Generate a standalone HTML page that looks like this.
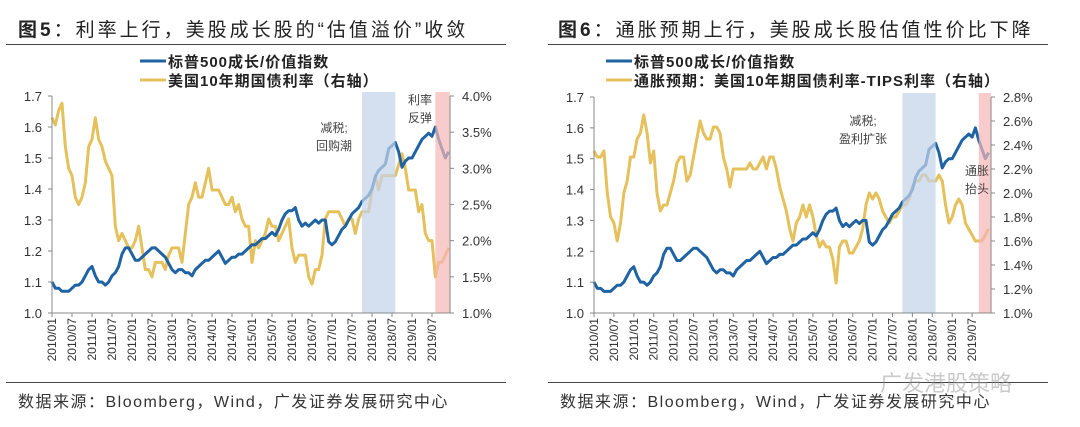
<!DOCTYPE html>
<html><head><meta charset="utf-8"><style>
body{margin:0;background:#fff;width:1080px;height:427px;overflow:hidden;position:relative;font-family:"Liberation Sans","Noto Sans CJK SC",sans-serif}
.t{position:absolute;font-size:19px;color:#222;letter-spacing:3px;white-space:nowrap}
.rule{position:absolute;height:1px;background:#444}
.src{position:absolute;font-size:16px;color:#333;letter-spacing:1.5px;white-space:nowrap}
</style></head><body>
<div class="t" style="left:18px;top:15px"><b>图5</b>：利率上行，美股成长股的“估值溢价”收敛</div>
<div class="t" style="left:558px;top:15px"><b>图6</b>：通胀预期上行，美股成长股估值性价比下降</div>
<div class="rule" style="left:6px;top:44px;width:500px"></div>
<div class="rule" style="left:548px;top:44px;width:500px"></div>
<div class="rule" style="left:6px;top:382px;width:500px"></div>
<div class="rule" style="left:548px;top:382px;width:500px"></div>
<div class="src" style="left:18px;top:388px">数据来源：Bloomberg，Wind，广发证券发展研究中心</div>
<div class="src" style="left:560px;top:388px">数据来源：Bloomberg，Wind，广发证券发展研究中心</div>
<div style="position:absolute;left:880px;top:366px;font-size:22px;color:rgba(150,150,150,0.5)">广发港股策略</div>
<svg id="svg" width="1080" height="427" style="position:absolute;left:0;top:0"></svg>
<script>
const months = [];
for (let y = 2010; y <= 2019; y++) for (let m = 1; m <= 12; m++) months.push(y + '/' + String(m).padStart(2, '0'));
const tickLabels = ['2010/01','2010/07','2011/01','2011/07','2012/01','2012/07','2013/01','2013/07','2014/01','2014/07','2015/01','2015/07','2016/01','2016/07','2017/01','2017/07','2018/01','2018/07','2019/01','2019/07'];
const growthValue = [
1.10,1.08,1.08,1.07,1.07,1.07,1.08,1.09,1.09,1.10,1.12,1.14,
1.15,1.12,1.10,1.10,1.09,1.10,1.12,1.13,1.15,1.19,1.21,1.21,
1.19,1.17,1.17,1.18,1.19,1.20,1.21,1.21,1.20,1.19,1.18,1.16,
1.14,1.13,1.14,1.14,1.13,1.13,1.12,1.14,1.15,1.16,1.17,1.17,
1.18,1.19,1.20,1.18,1.16,1.17,1.18,1.18,1.19,1.19,1.20,1.21,
1.22,1.22,1.23,1.24,1.24,1.25,1.26,1.25,1.27,1.30,1.32,1.33,
1.33,1.34,1.30,1.28,1.29,1.28,1.29,1.30,1.29,1.30,1.30,1.23,
1.22,1.23,1.25,1.27,1.28,1.30,1.32,1.33,1.34,1.36,1.37,1.38,
1.40,1.44,1.46,1.47,1.48,1.53,1.54,1.55,1.52,1.47,1.49,1.50,
1.50,1.52,1.54,1.56,1.57,1.58,1.57,1.60,1.56,1.53,1.50,1.52];
const yield10y = [
3.7,3.6,3.8,3.9,3.3,3.0,2.9,2.6,2.5,2.6,2.8,3.3,
3.4,3.7,3.4,3.3,3.1,3.0,2.9,2.2,2.0,2.1,2.0,1.9,
1.9,2.0,2.2,1.9,1.6,1.6,1.5,1.7,1.7,1.7,1.6,1.8,
1.9,1.9,1.9,1.7,2.1,2.5,2.6,2.8,2.6,2.6,2.8,3.0,
2.7,2.7,2.7,2.6,2.5,2.5,2.6,2.4,2.5,2.3,2.2,2.2,
1.7,2.0,1.9,2.0,2.1,2.3,2.2,2.2,2.0,2.1,2.2,2.3,
1.9,1.7,1.8,1.8,1.8,1.5,1.4,1.6,1.6,1.8,2.3,2.4,
2.4,2.4,2.4,2.3,2.2,2.3,2.3,2.1,2.3,2.4,2.4,2.4,
2.7,2.9,2.7,2.9,2.9,2.9,2.9,2.9,3.05,3.2,3.0,2.7,
2.7,2.7,2.4,2.5,2.1,2.0,2.0,1.5,1.7,1.7,1.8,1.9];
const breakeven = [
2.35,2.3,2.3,2.35,2.0,1.8,1.75,1.6,1.75,2.0,2.1,2.3,
2.3,2.45,2.5,2.65,2.5,2.25,2.35,2.0,1.85,1.9,1.9,2.0,
2.1,2.25,2.3,2.3,2.1,2.15,2.3,2.45,2.6,2.5,2.45,2.45,
2.55,2.55,2.5,2.3,2.2,2.05,2.2,2.2,2.2,2.2,2.2,2.25,
2.2,2.2,2.25,2.3,2.2,2.3,2.3,2.2,2.05,1.95,1.85,1.7,
1.6,1.75,1.8,1.9,1.8,1.9,1.8,1.65,1.55,1.6,1.55,1.55,
1.45,1.25,1.55,1.6,1.6,1.5,1.5,1.55,1.6,1.7,1.9,2.0,
1.95,2.0,1.95,1.85,1.8,1.75,1.8,1.8,1.85,1.9,1.9,1.95,
2.05,2.1,2.1,2.15,2.15,2.1,2.1,2.1,2.15,2.1,1.9,1.75,
1.8,1.9,1.95,1.9,1.75,1.7,1.65,1.6,1.6,1.6,1.65,1.7];
const leftTicks = [1.0,1.1,1.2,1.3,1.4,1.5,1.6,1.7];
const rightTicks5 = [1.0,1.5,2.0,2.5,3.0,3.5,4.0];
const rightTicks6 = [1.0,1.2,1.4,1.6,1.8,2.0,2.2,2.4,2.6,2.8];

const svg = document.getElementById('svg');
const NS = 'http://www.w3.org/2000/svg';
function mk(tag, attrs, parent) { const e = document.createElementNS(NS, tag); for (const k in attrs) e.setAttribute(k, attrs[k]); (parent || svg).appendChild(e); return e; }

function chart(o) {
  const g = mk('g', {});
  
  
  const x = i => o.x0 + i * o.step / 6;
  const yL = v => o.yB - (v - 1.0) / 0.7 * (o.yB - o.yT);
  const yR = v => o.yB - (v - o.rMin) / (o.rMax - o.rMin) * (o.yB - o.yT);
  const idx = s => months.indexOf(s);
  const lineY = mk('polyline', { points: o.right.map((v, i) => x(i) + ',' + yR(v)).join(' '), fill: 'none', stroke: '#e5c05b', 'stroke-width': 3, 'stroke-linejoin': 'round' }, g);
  
  
  const lineB = mk('polyline', { points: growthValue.map((v, i) => x(i) + ',' + yL(v)).join(' '), fill: 'none', stroke: '#1f63a3', 'stroke-width': 3, 'stroke-linejoin': 'round' }, g);
  
  
  const b1 = mk('rect', { x: x(idx(o.band1[0])), y: o.yT - 4, width: x(idx(o.band1[1])) - x(idx(o.band1[0])), height: o.yB - o.yT + 4, fill: '#c3d3e9', opacity: 0.72 }, g);
  
  
  const b2 = mk('rect', { x: x(idx(o.band2)), y: o.yT - 4, width: o.xR - x(idx(o.band2)), height: o.yB - o.yT + 4, fill: '#f7b7b7', opacity: 0.7 }, g);
  
  
  mk('line', { x1: o.x0, x2: o.x0, y1: o.yT, y2: o.yB, stroke: '#888' }, g);
  mk('line', { x1: o.xR, x2: o.xR, y1: o.yT, y2: o.yB, stroke: '#888' }, g);
  mk('line', { x1: o.x0, x2: o.xR, y1: o.yB, y2: o.yB, stroke: '#888' }, g);
  leftTicks.forEach(v => {
    mk('line', { x1: o.x0 - 4, x2: o.x0, y1: yL(v), y2: yL(v), stroke: '#888' }, g);
    const t = mk('text', { x: o.x0 - 10, y: yL(v) + 5, 'text-anchor': 'end', 'font-size': 13, fill: '#333' }, g);
    t.textContent = v.toFixed(1);
    
    
  });
  o.rTicks.forEach(v => {
    mk('line', { x1: o.xR, x2: o.xR + 4, y1: yR(v), y2: yR(v), stroke: '#888' }, g);
    const t = mk('text', { x: o.xR + 12, y: yR(v) + 5, 'font-size': 13, fill: '#333' }, g);
    t.textContent = v.toFixed(1) + '%';
    
    
  });
  tickLabels.forEach(s => {
    const xx = x(idx(s));
    mk('line', { x1: xx, x2: xx, y1: o.yB, y2: o.yB + 4, stroke: '#888' }, g);
    const t = mk('text', { x: 0, y: 0, 'text-anchor': 'end', 'font-size': 12, fill: '#333', transform: `translate(${xx + 4},${o.yB + 5}) rotate(-90)` }, g);
    t.textContent = s;
    
    
  });
  mk('line', { x1: o.lx, x2: o.lx + 26, y1: 61, y2: 61, stroke: '#1f63a3', 'stroke-width': 3 }, g);
  mk('line', { x1: o.lx, x2: o.lx + 26, y1: 80, y2: 80, stroke: '#e5c05b', 'stroke-width': 3 }, g);
  const l1 = mk('text', { x: o.lx + 28, y: 67, 'font-size': 15, 'font-weight': 'bold', fill: '#222', 'letter-spacing': 1 }, g);
  l1.textContent = '标普500成长/价值指数';
  
  
  const l2 = mk('text', { x: o.lx + 28, y: 86, 'font-size': 15, 'font-weight': 'bold', fill: '#222', 'letter-spacing': 1 }, g);
  l2.textContent = o.legend2;
  
  
  o.notes.forEach(n => {
    n.lines.forEach((s, k) => {
      const t = mk('text', { x: n.x, y: n.y + k * 18, 'font-size': 12, fill: '#444', 'text-anchor': 'middle' }, g);
      t.textContent = s;
      
      
    });
  });
}
chart({ name: 'chart5', x0: 52, xR: 450, yT: 96, yB: 313, step: 20, rMin: 1.0, rMax: 4.0, right: yield10y, rTicks: rightTicks5,
  band1: ['2017/10', '2018/08'], band2: '2019/08', lx: 140, legend2: '美国10年期国债利率（右轴）',
  notes: [{ x: 334, y: 132, lines: ['减税;', '回购潮'] }, { x: 420, y: 104, lines: ['利率', '反弹'] }] });
chart({ name: 'chart6', x0: 594, xR: 991, yT: 97, yB: 313, step: 19.9, rMin: 1.0, rMax: 2.8, right: breakeven, rTicks: rightTicks6,
  band1: ['2017/10', '2018/08'], band2: '2019/09', lx: 606, legend2: '通胀预期：美国10年期国债利率-TIPS利率（右轴）',
  notes: [{ x: 863, y: 125, lines: ['减税;', '盈利扩张'] }, { x: 977, y: 175, lines: ['通胀', '抬头'] }] });
</script>
</body></html>
